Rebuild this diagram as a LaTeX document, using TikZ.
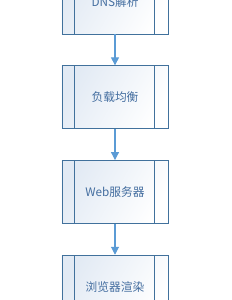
\documentclass[tikz,border=0pt]{standalone}
\usepackage{fontspec}
\newfontfamily\cjk{Noto Sans CJK SC}
\usetikzlibrary{arrows.meta}
\definecolor{frame}{RGB}{65,113,156}
\definecolor{sky}{RGB}{91,155,213}
\definecolor{mist}{RGB}{226,234,244}
\definecolor{label}{RGB}{68,110,160}

\begin{document}
\begin{tikzpicture}[x=0.03cm,y=-0.03cm,
    procbox/.style={draw=frame,line width=0.6pt,left color=mist,right color=white,shading angle=60,
      minimum width=3.18cm,minimum height=1.89cm,inner sep=0pt,text=label,font=\cjk\fontsize{10}{12}\selectfont,
      path picture={\draw[frame,line width=0.6pt]
        ([xshift=0.36cm]path picture bounding box.north west) -- ([xshift=0.36cm]path picture bounding box.south west)
        ([xshift=-0.4cm]path picture bounding box.north east) -- ([xshift=-0.4cm]path picture bounding box.south east);}},
    flow/.style={-{Triangle[length=2.4mm,width=2.4mm]},sky,line width=0.9pt}]
        \useasboundingbox (0,0) rectangle (232,300);
        \foreach \i/\t in {0/DNS解析,1/负载均衡,2/Web服务器,3/浏览器渲染}
          \node[procbox] (p\i) at (115,2.5+94.7*\i) {\t};
        \foreach \s/\e in {0/1,1/2,2/3}
          \draw[flow] (p\s.south) -- (p\e.north);
      \end{tikzpicture}
\end{document}
